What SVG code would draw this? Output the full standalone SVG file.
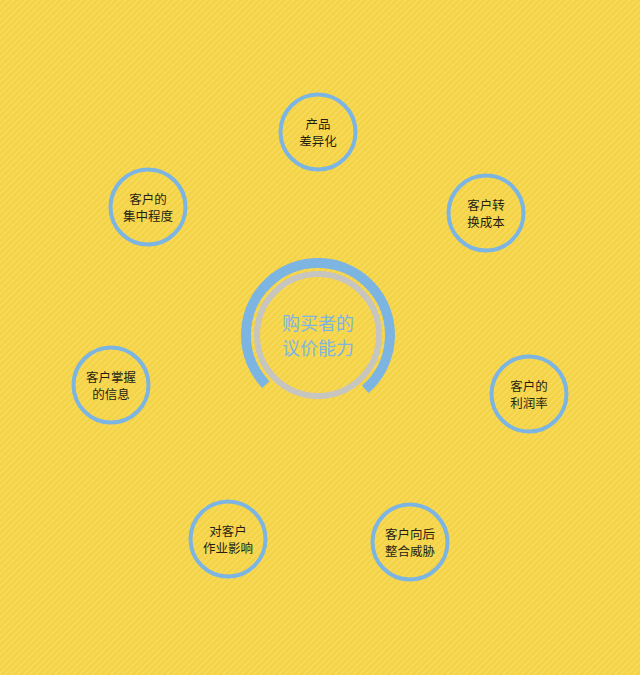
<svg xmlns="http://www.w3.org/2000/svg" width="640" height="675" viewBox="0 0 640 675">
<defs>
<pattern id="stripes" width="4.4" height="10" patternUnits="userSpaceOnUse" patternTransform="rotate(45)">
<rect width="4.4" height="10" fill="#F4D243"/>
<rect width="2" height="10" fill="#F7DA5C"/>
</pattern>
<style>
.node circle{fill:none;stroke:#7DB5E2;stroke-width:4}
.node text{font-family:"Noto Sans CJK SC","Noto Sans",sans-serif;font-size:12.5px;fill:#241f14;text-anchor:middle}
.center text{font-family:"Noto Sans CJK SC","Noto Sans",sans-serif;font-size:18px;fill:#7DB5E2;text-anchor:middle}
</style>
</defs>
<rect width="640" height="675" fill="url(#stripes)"/>
<g id="center" class="center">
<circle cx="318" cy="335" r="61" fill="none" stroke="#C6C5C0" stroke-width="6"/>
<path d="M 365.2 389.3 A 72 72 0 1 0 265.8 384.6" fill="none" stroke="#7DB5E2" stroke-width="10"/>
<text x="318" y="330">购买者的</text>
<text x="318" y="355">议价能力</text>
</g>
<g id="connectors"></g>
<g id="n1" class="node"><circle cx="318" cy="132" r="37.5"/><text x="318" y="129">产品</text><text x="318" y="146">差异化</text></g>
<g id="n2" class="node"><circle cx="486" cy="213" r="37.5"/><text x="486" y="210">客户转</text><text x="486" y="227">换成本</text></g>
<g id="n3" class="node"><circle cx="529" cy="394" r="37.5"/><text x="529" y="391">客户的</text><text x="529" y="408">利润率</text></g>
<g id="n4" class="node"><circle cx="410" cy="542" r="37.5"/><text x="410" y="539">客户向后</text><text x="410" y="556">整合威胁</text></g>
<g id="n5" class="node"><circle cx="228" cy="539" r="37.5"/><text x="228" y="536">对客户</text><text x="228" y="553">作业影响</text></g>
<g id="n6" class="node"><circle cx="111" cy="385" r="37.5"/><text x="111" y="382">客户掌握</text><text x="111" y="399">的信息</text></g>
<g id="n7" class="node"><circle cx="148" cy="207" r="37.5"/><text x="148" y="204">客户的</text><text x="148" y="221">集中程度</text></g>
</svg>
